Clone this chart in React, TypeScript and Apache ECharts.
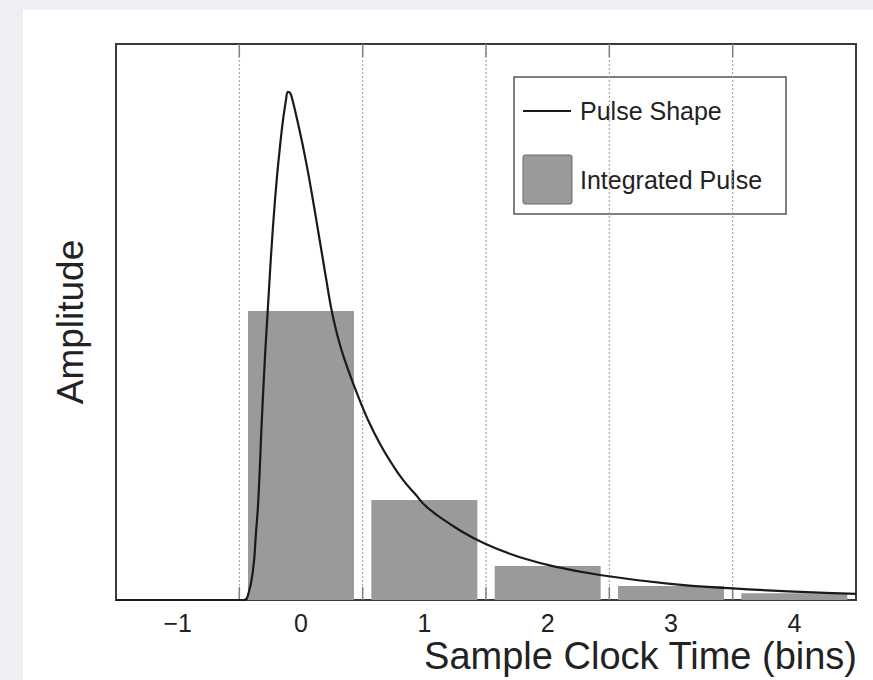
import React, { useEffect, useRef } from 'react';
import * as echarts from 'echarts';

// ---- data ----
const binCenters = [0, 1, 2, 3, 4];
const integratedPulse = [0.52, 0.18, 0.061, 0.025, 0.012];
const binEdges = [-0.5, 0.5, 1.5, 2.5, 3.5];
const pulseX = [
  -1.5, -0.462, -0.4295, -0.389, -0.365, -0.346, -0.31, -0.267, -0.211, -0.156, -0.122,
  -0.105, -0.089, -0.073, -0.016, 0.041, 0.097, 0.138, 0.178, 0.211, 0.243, 0.276,
  0.316, 0.357, 0.397, 0.462, 0.543, 0.64, 0.737, 0.827, 0.924, 1.021, 1.207, 1.394,
  1.613, 1.775, 2.042, 2.423, 2.998, 3.501, 4.003, 4.5,
];
const pulseY = [
  0, 0, 0.009, 0.054, 0.121, 0.18, 0.36, 0.531, 0.719, 0.845, 0.899,
  0.914, 0.912, 0.903, 0.849, 0.788, 0.719, 0.665, 0.612, 0.568, 0.527, 0.493,
  0.459, 0.43, 0.405, 0.367, 0.324, 0.281, 0.245, 0.216, 0.191, 0.167, 0.137, 0.112,
  0.09, 0.077, 0.061, 0.045, 0.029, 0.021, 0.015, 0.011,
];
const legendLabels = ['Pulse Shape', 'Integrated Pulse'];
const xMin = -1.5;
const xMax = 4.5;
const yMax = 1;

const FONT = '"Liberation Sans", Arial, Helvetica, sans-serif';
const BAR_COLOR = '#9a9a9a';
const LINE_COLOR = '#1a1a1a';

export default function App() {
  const ref = useRef<HTMLDivElement>(null);

  useEffect(() => {
    const chart = echarts.init(ref.current!, null, { renderer: 'svg' });
    const TICK = 13;
    // legend box geometry (decoration)
    const LX = 514;
    const LY = 77;
    const LW = 272;
    const LH = 137;
    chart.setOption({
      animation: false,
      backgroundColor: 'transparent',
      grid: {
        left: 116,
        right: 17,
        top: 44,
        bottom: 80,
        show: true,
        backgroundColor: '#ffffff',
        borderColor: '#3a3a3a',
        borderWidth: 2,
      },
      xAxis: {
        type: 'value',
        min: xMin,
        max: xMax,
        interval: 0.5,
        axisLine: { show: false },
        axisTick: { show: false },
        splitLine: { show: false },
        axisLabel: {
          margin: 10,
          fontSize: 25,
          color: '#222',
          fontFamily: FONT,
          formatter: (v: number) =>
            Number.isInteger(v) ? (v < 0 ? '\u2212' + Math.abs(v) : String(v)) : '',
        },
      },
      yAxis: {
        type: 'value',
        min: 0,
        max: yMax,
        axisLine: { show: false },
        axisTick: { show: false },
        axisLabel: { show: false },
        splitLine: { show: false },
      },
      graphic: [
        {
          type: 'text',
          x: 857,
          y: 656,
          style: {
            text: 'Sample Clock Time (bins)',
            fontSize: 38,
            fontFamily: FONT,
            fill: '#222',
            textAlign: 'right',
            textVerticalAlign: 'middle',
          },
        },
        {
          type: 'text',
          x: 70,
          y: 322,
          rotation: Math.PI / 2,
          style: {
            text: 'Amplitude',
            fontSize: 37,
            fontFamily: FONT,
            fill: '#222',
            textAlign: 'center',
            textVerticalAlign: 'middle',
          },
        },
        {
          type: 'group',
          z: 100,
          children: [
            {
              type: 'rect',
              shape: { x: LX, y: LY, width: LW, height: LH },
              style: { fill: '#ffffff', stroke: '#555', lineWidth: 1.5 },
            },
            {
              type: 'line',
              shape: { x1: LX + 9, y1: LY + 34, x2: LX + 57, y2: LY + 34 },
              style: { stroke: LINE_COLOR, lineWidth: 2.2 },
            },
            {
              type: 'text',
              x: LX + 66,
              y: LY + 34,
              style: {
                text: legendLabels[0],
                fontSize: 25,
                fontFamily: FONT,
                fill: '#222',
                textVerticalAlign: 'middle',
              },
            },
            {
              type: 'rect',
              shape: { x: LX + 9, y: LY + 78, width: 49, height: 49, r: 2 },
              style: { fill: BAR_COLOR, stroke: '#6a6a6a', lineWidth: 1 },
            },
            {
              type: 'text',
              x: LX + 66,
              y: LY + 103,
              style: {
                text: legendLabels[1],
                fontSize: 25,
                fontFamily: FONT,
                fill: '#222',
                textVerticalAlign: 'middle',
              },
            },
          ],
        },
      ],
      series: [
        {
          type: 'custom',
          name: 'edges',
          silent: true,
          data: binEdges.map((v) => [v, 0]),
          renderItem: (_params: any, api: any) => {
            const v = api.value(0);
            const top = api.coord([v, yMax]);
            const bottom = api.coord([v, 0]);
            return {
              type: 'group',
              children: [
                {
                  type: 'line',
                  shape: { x1: top[0], y1: top[1], x2: bottom[0], y2: bottom[1] },
                  style: { stroke: '#9a9a9a', lineWidth: 1, lineDash: [2, 2] },
                },
                {
                  type: 'line',
                  shape: { x1: top[0], y1: top[1], x2: top[0], y2: top[1] + TICK },
                  style: { stroke: '#808080', lineWidth: 1.5 },
                },
                {
                  type: 'line',
                  shape: { x1: bottom[0], y1: bottom[1], x2: bottom[0], y2: bottom[1] - TICK },
                  style: { stroke: '#808080', lineWidth: 1.5 },
                },
              ],
            };
          },
        },
        {
          type: 'bar',
          name: legendLabels[1],
          barWidth: 106,
          itemStyle: { color: BAR_COLOR },
          data: binCenters.map((c, i) => [c, integratedPulse[i]]),
        },
        {
          type: 'line',
          name: legendLabels[0],
          symbol: 'none',
          smooth: 0.5,
          lineStyle: { color: LINE_COLOR, width: 2.2 },
          itemStyle: { color: LINE_COLOR },
          data: pulseX.map((x, i) => [x, pulseY[i]]),
        },
      ],
    });
    return () => chart.dispose();
  }, []);

  return (
    <div
      style={{
        position: 'fixed',
        left: 0,
        top: 0,
        width: 873,
        height: 680,
        background: '#eeeff2',
        overflow: 'hidden',
      }}
    >
      <div
        style={{ position: 'absolute', left: 23, top: 10, right: 0, bottom: 0, background: '#ffffff' }}
      />
      <div ref={ref} style={{ position: 'absolute', left: 0, top: 0, width: 873, height: 680 }} />
    </div>
  );
}
